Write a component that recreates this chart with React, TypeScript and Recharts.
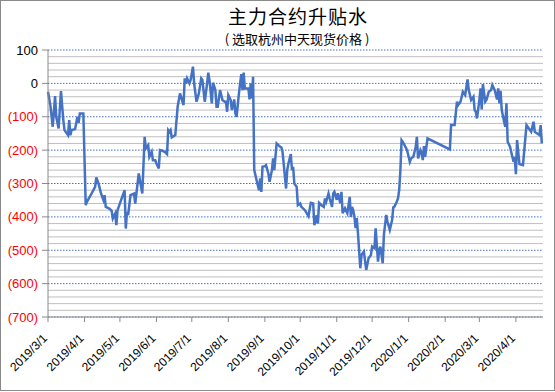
import React from 'react';
import { LineChart, Line, XAxis, YAxis, CartesianGrid, ReferenceLine } from 'recharts';

// trading dates
const dates = [
  '2019/3/1', '2019/3/3', '2019/3/5', '2019/3/7', '2019/3/8', '2019/3/10', '2019/3/12', '2019/3/14', '2019/3/15', '2019/3/18', '2019/3/19', '2019/3/20', '2019/3/21', '2019/3/24', '2019/3/26', '2019/3/27', '2019/3/28', '2019/3/31',
  '2019/4/2', '2019/4/3', '2019/4/7', '2019/4/10', '2019/4/11', '2019/4/13', '2019/4/15', '2019/4/17', '2019/4/18', '2019/4/19', '2019/4/22', '2019/4/24', '2019/4/25', '2019/4/27', '2019/4/28', '2019/4/29',
  '2019/5/5', '2019/5/6', '2019/5/7', '2019/5/8', '2019/5/10', '2019/5/13', '2019/5/14', '2019/5/17', '2019/5/20', '2019/5/22', '2019/5/23', '2019/5/25', '2019/5/26', '2019/5/28', '2019/5/29', '2019/5/31',
  '2019/6/1', '2019/6/3', '2019/6/4', '2019/6/6', '2019/6/8', '2019/6/10', '2019/6/11', '2019/6/12', '2019/6/13', '2019/6/14', '2019/6/17', '2019/6/19', '2019/6/21', '2019/6/24', '2019/6/25', '2019/6/26', '2019/6/27', '2019/6/29', '2019/6/30',
  '2019/7/2', '2019/7/3', '2019/7/5', '2019/7/7', '2019/7/9', '2019/7/10', '2019/7/12', '2019/7/14', '2019/7/15', '2019/7/16', '2019/7/18', '2019/7/19', '2019/7/21', '2019/7/22', '2019/7/23', '2019/7/25', '2019/7/27', '2019/7/29', '2019/7/30', '2019/7/31',
  '2019/8/1', '2019/8/3', '2019/8/4', '2019/8/6', '2019/8/7', '2019/8/8', '2019/8/10', '2019/8/12', '2019/8/13', '2019/8/14', '2019/8/15', '2019/8/18', '2019/8/19', '2019/8/20', '2019/8/21', '2019/8/22', '2019/8/23', '2019/8/25', '2019/8/27', '2019/8/28', '2019/8/29', '2019/8/30',
  '2019/9/1', '2019/9/2', '2019/9/4', '2019/9/5', '2019/9/7', '2019/9/8', '2019/9/9', '2019/9/11', '2019/9/14', '2019/9/15', '2019/9/16', '2019/9/19', '2019/9/20', '2019/9/21', '2019/9/23', '2019/9/24', '2019/9/25', '2019/9/26', '2019/9/28', '2019/9/29',
  '2019/10/1', '2019/10/2', '2019/10/5', '2019/10/8', '2019/10/10', '2019/10/12', '2019/10/13', '2019/10/15', '2019/10/16', '2019/10/17', '2019/10/19', '2019/10/21', '2019/10/22', '2019/10/23', '2019/10/25', '2019/10/26', '2019/10/28', '2019/10/29', '2019/10/30',
  '2019/11/1', '2019/11/2', '2019/11/4', '2019/11/5', '2019/11/6', '2019/11/8', '2019/11/10', '2019/11/12', '2019/11/13', '2019/11/14', '2019/11/15', '2019/11/16', '2019/11/17', '2019/11/18', '2019/11/19', '2019/11/21', '2019/11/22', '2019/11/23', '2019/11/24', '2019/11/26', '2019/11/28', '2019/11/30',
  '2019/12/1', '2019/12/3', '2019/12/4', '2019/12/6', '2019/12/7', '2019/12/8', '2019/12/10', '2019/12/11', '2019/12/13', '2019/12/14', '2019/12/16', '2019/12/18', '2019/12/19', '2019/12/20', '2019/12/22', '2019/12/23', '2019/12/24', '2019/12/25', '2019/12/26', '2019/12/27', '2019/12/30', '2019/12/31',
  '2020/1/2', '2020/1/3', '2020/1/5', '2020/1/7', '2020/1/8', '2020/1/9', '2020/1/11', '2020/1/12', '2020/1/13', '2020/1/14', '2020/1/15', '2020/1/17',
  '2020/2/5', '2020/2/6', '2020/2/9', '2020/2/11', '2020/2/12', '2020/2/14', '2020/2/16', '2020/2/18', '2020/2/20', '2020/2/21', '2020/2/23', '2020/2/25', '2020/2/26', '2020/2/27', '2020/2/28',
  '2020/3/1', '2020/3/2', '2020/3/3', '2020/3/4', '2020/3/6', '2020/3/7', '2020/3/9', '2020/3/11', '2020/3/12', '2020/3/14', '2020/3/16', '2020/3/17', '2020/3/18', '2020/3/19', '2020/3/20', '2020/3/22', '2020/3/23', '2020/3/24', '2020/3/25', '2020/3/27', '2020/3/30', '2020/3/31',
  '2020/4/1', '2020/4/2', '2020/4/4', '2020/4/7', '2020/4/10', '2020/4/12', '2020/4/14', '2020/4/16', '2020/4/17', '2020/4/19', '2020/4/21', '2020/4/22', '2020/4/23',
];

// 升贴水 values, one per date
const spread = [
  -25, -65, -130, -38, -100, -135, -23, -110, -140, -155, -110, -155, -140, -137, -100, -118, -90, -90,
  -365, -355, -330, -310, -282, -302, -330, -350, -335, -370, -375, -382, -405, -390, -425, -380,
  -320, -435, -385, -395, -335, -330, -360, -270, -330, -160, -195, -185, -220, -205, -230, -230,
  -240, -255, -200, -202, -205, -212, -140, -145, -140, -162, -155, -70, -30, -65, 15, 0, 15, 0, 10,
  50, 0, -55, -30, 15, 10, -55, 0, 32, 10, -60, 2, -20, -70, -70, -20, -50, -55, -55, -85,
  -35, -50, -80, -48, -90, -100, -30, 28, -20, 32, -15, -15, -48, 0, -45, 20, -260, -290, -320, -285, -325, -250,
  -248, -245, -270, -295, -260, -225, -260, -180, -190, -192, -205, -315, -260, -240, -212, -260, -250, -300, -310, -365,
  -360, -370, -380, -398, -358, -360, -425, -395, -420, -358, -365, -370, -345, -355, -330, -345, -370, -330, -325,
  -349, -329, -359, -325, -389, -374, -389, -340, -400, -370, -380, -400, -434, -404, -449, -554, -514, -509, -504, -559, -524, -514,
  -489, -494, -434, -534, -499, -489, -539, -454, -394, -414, -439, -409, -371, -369, -354, -344, -319, -260, -170, -175, -195, -205,
  -235, -225, -220, -190, -160, -225, -200, -208, -230, -188, -220, -165,
  -198, -125, -125, -55, -65, -55, -25, -35, 12, -20, -50, -40, -80, -85, -105,
  -50, -15, -78, -2, -55, -50, -25, -20, -5, -20, -48, -15, -60, -22, -80, -115, -130, -60, -175, -190, -235, -220,
  -272, -170, -242, -245, -125, -135, -145, -115, -145, -150, -155, -125, -180,
];

const monthTicks = [
  '2019/3/1', '2019/4/1', '2019/5/1', '2019/6/1', '2019/7/1', '2019/8/1', '2019/9/1',
  '2019/10/1', '2019/11/1', '2019/12/1', '2020/1/1', '2020/2/1', '2020/3/1', '2020/4/1',
];
const axisEnd = '2020/4/24';

const yTicks = [100, 0, -100, -200, -300, -400, -500, -600, -700];

const toTs = (s: string) => {
  const [y, m, d] = s.split('/').map(Number);
  return Date.UTC(y, m - 1, d);
};

const data = dates.map((d, i) => ({ t: toTs(d), v: spread[i] }));
const xTicks = monthTicks.map(toTs);
const tickLabel: Record<number, string> = {};
monthTicks.forEach((m) => (tickLabel[toTs(m)] = m));

// minor gridlines every 20, skipping the 100s
const minorGrid: number[] = [];
for (let v = -680; v < 100; v += 20) if (v % 100 !== 0) minorGrid.push(v);

const fmtY = (v: number) => (v < 0 ? `(${Math.abs(v)})` : `${v}`);

const XTick = (props: any) => {
  const { x, y, payload } = props;
  const ty = y + 15;
  return (
    <text
      x={x}
      y={ty}
      textAnchor="end"
      fontSize={12}
      fontFamily="Liberation Sans, Arial, sans-serif"
      fill="#000"
      transform={`rotate(-45 ${x} ${ty})`}
    >
      {tickLabel[payload.value]}
    </text>
  );
};

const YTick = (props: any) => {
  const { x, y, payload } = props;
  return (
    <text
      x={x}
      y={y}
      dy={4.5}
      textAnchor="end"
      fontSize={13}
      fontFamily="Liberation Sans, Arial, sans-serif"
      fill={payload.value < 0 ? '#ff0000' : '#000'}
    >
      {fmtY(payload.value)}
    </text>
  );
};

const App = () => {
  return (
    <div style={{ position: 'absolute', left: 0, top: 0, width: 555, height: 392, background: '#fff' }}>
      <div
        style={{
          position: 'absolute', left: 0, top: 0, width: 553, height: 389,
          border: '1px solid #8a8a8a', boxSizing: 'content-box',
        }}
      />
      <div style={{ position: 'absolute', left: 0, top: 0 }}>
        <LineChart width={555} height={392} data={data} margin={{ top: 50, right: 12, left: 0, bottom: 0 }}>
          <text x={298} y={24} textAnchor="middle" fontFamily="Noto Sans CJK SC, sans-serif" fontSize={19} letterSpacing={1} fill="#000">
            主力合约升贴水
          </text>
          <text x={297} y={44} textAnchor="middle" fontFamily="Noto Sans CJK SC, sans-serif" fontSize={13} fill="#000">
            ( 选取杭州中天现货价格 )
          </text>
          {minorGrid.map((v) => (
            <ReferenceLine key={v} y={v} stroke="#bfbfbf" strokeWidth={1} />
          ))}
          <CartesianGrid vertical={false} stroke="#4472c4" strokeDasharray="1.5 1.5" strokeWidth={1} />
          <XAxis
            dataKey="t"
            type="number"
            domain={[toTs(monthTicks[0]), toTs(axisEnd)]}
            ticks={xTicks}
            interval={0}
            height={75}
            tick={<XTick />}
            tickSize={5}
            axisLine={{ stroke: '#8a8a8a' }}
            tickLine={{ stroke: '#8a8a8a' }}
          />
          <YAxis
            type="number"
            domain={[-700, 100]}
            ticks={yTicks}
            interval={0}
            width={48}
            tick={<YTick />}
            tickSize={6}
            tickMargin={4}
            axisLine={{ stroke: '#8a8a8a' }}
            tickLine={{ stroke: '#8a8a8a' }}
          />
          <Line
            type="linear"
            dataKey="v"
            stroke="#4472c4"
            strokeWidth={2.5}
            dot={false}
            isAnimationActive={false}
          />
        </LineChart>
      </div>
    </div>
  );
};

export default App;
